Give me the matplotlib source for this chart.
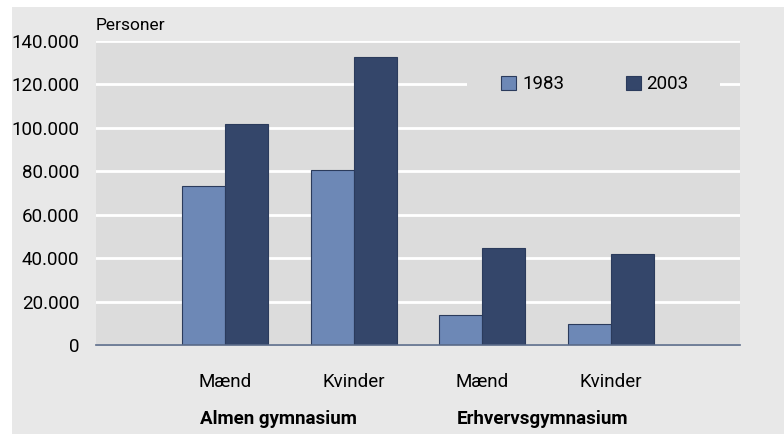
import numpy as np
import matplotlib.pyplot as plt
from matplotlib import font_manager

# --------------------------------------------------------------------------
# Data
# --------------------------------------------------------------------------
categories = ["Mænd", "Kvinder", "Mænd", "Kvinder"]
groups = ["Almen gymnasium", "Erhvervsgymnasium"]
series_names = ["1983", "2003"]
values_1983 = [73000, 80500, 14000, 9500]
values_2003 = [101800, 132500, 44800, 41800]
yticks = [0, 20000, 40000, 60000, 80000, 100000, 120000, 140000]

C1983 = "#6d88b6"
C2003 = "#34466a"
EDGE = "#2b3b5c"
PANEL_BG = "#e8e8e8"
PLOT_BG = "#dcdcdc"
FS = 13.5

names = {f.name for f in font_manager.fontManager.ttflist}
fam = "Liberation Sans Narrow" if "Liberation Sans Narrow" in names else "Roboto"
plt.rcParams["font.family"] = [fam, "DejaVu Sans"]

fig = plt.figure(figsize=(7.84, 4.34), dpi=100)
fig.patch.set_facecolor("white")
# grey panel behind everything
fig.patches.append(plt.Rectangle((12 / 784, 0), 1, 1 - 7 / 434,
                                 transform=fig.transFigure, facecolor=PANEL_BG,
                                 edgecolor="none", zorder=-5))

ax = fig.add_axes([96 / 784, 1 - 345 / 434, 644 / 784, 304 / 434])
ax.set_zorder(2)
ax.set_facecolor(PLOT_BG)

x = np.arange(len(categories))
w = 1 / 3
ax.bar(x - w / 2, values_1983, w, color=C1983, edgecolor=EDGE, linewidth=0.8,
       label=series_names[0], zorder=3)
ax.bar(x + w / 2, values_2003, w, color=C2003, edgecolor=EDGE, linewidth=0.8,
       label=series_names[1], zorder=3)

ax.set_xlim(-1, 4)
ax.set_ylim(0, 140000)
ax.set_yticks(yticks)
ax.set_yticklabels(["0" if v == 0 else f"{v:,}".replace(",", ".") for v in yticks],
                   fontsize=FS)
ax.grid(axis="y", color="white", linewidth=2, zorder=1)
ax.set_axisbelow(True)
for s in ["top", "right", "left"]:
    ax.spines[s].set_visible(False)
ax.spines["bottom"].set_color("#5a6a88")
ax.spines["bottom"].set_linewidth(1.2)
ax.spines["bottom"].set_zorder(4)
ax.tick_params(axis="y", length=0, pad=12)
ax.tick_params(axis="x", length=0, pad=20)
ax.set_xticks(x)
ax.set_xticklabels(categories, fontsize=FS)

# group labels
for gx, g in zip([0.42, 2.47], groups):
    ax.text(gx, -0.245, g, transform=ax.get_xaxis_transform(), ha="center",
            va="center", fontsize=FS, fontweight="bold")

fig.text(96 / 784, 1 - 26 / 434, "Personer", ha="left", va="center", fontsize=12.5)

# legend sits on a patch of plot background that hides the 120.000 gridline
ax.add_patch(plt.Rectangle(((467 - 96) / 644, 0.80), (720 - 467) / 644, 0.11,
                           transform=ax.transAxes, facecolor=PLOT_BG,
                           edgecolor="none", zorder=2))
leg = ax.legend(loc="center", bbox_to_anchor=(0.775, 0.857), ncol=2,
                fontsize=FS, frameon=False, handlelength=0.8, handleheight=0.8,
                handletextpad=0.3, columnspacing=3.3, borderpad=0.3,
                borderaxespad=0)

fig.savefig("out.png", dpi=100, facecolor=fig.get_facecolor())
